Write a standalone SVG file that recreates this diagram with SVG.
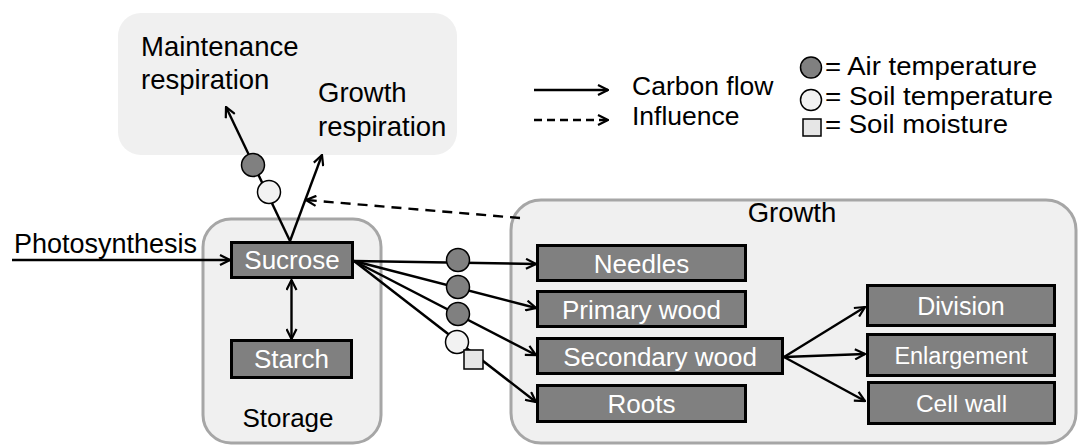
<svg xmlns="http://www.w3.org/2000/svg" width="1079" height="445" viewBox="0 0 1079 445">
<defs>
<style>
text{font-family:"Liberation Sans",Arial,sans-serif;fill:#000}
.lbl{font-size:27.5px}
.leg{font-size:26.5px}
.leg2{font-size:25px}
.box{fill:#808080;stroke:#000;stroke-width:3}
.bt{font-size:26px;fill:#fff;text-anchor:middle}
.cont{fill:#f0f0f0;stroke:#a6a6a6;stroke-width:3}
.flow{stroke:#000;stroke-width:2.4;fill:none}
.dash{stroke-dasharray:10 7}
.air{fill:#808080;stroke:#000;stroke-width:1.5}
.soil{fill:#f2f2f2;stroke:#000;stroke-width:1.5}
.moist{fill:#e6e6e6;stroke:#000;stroke-width:1.5}
</style>
<marker id="arr" viewBox="0 0 12 12" refX="11" refY="6" markerWidth="12" markerHeight="12" markerUnits="userSpaceOnUse" orient="auto-start-reverse">
<path d="M1,1 L11,6 L1,11" fill="none" stroke="#000" stroke-width="2.2" stroke-dasharray="none"/>
</marker>
</defs>
<rect width="1079" height="445" fill="#fff"/>

<g id="respiration">
<rect x="118" y="13" width="339" height="142" rx="23" fill="#f0f0f0"/>
<text class="lbl" x="141" y="56">Maintenance</text>
<text class="lbl" x="141" y="89">respiration</text>
<text class="lbl" x="318" y="102">Growth</text>
<text class="lbl" x="318" y="136">respiration</text>
</g>

<g id="storage">
<rect class="cont" x="203" y="219" width="178" height="224" rx="28"/>
<text class="lbl" x="288" y="427" text-anchor="middle" style="font-size:26px">Storage</text>
</g>

<g id="growth">
<rect class="cont" x="511" y="200" width="565" height="243" rx="30"/>
<text class="lbl" x="792" y="222" text-anchor="middle">Growth</text>
</g>

<g id="connectors">
<line class="flow" x1="12" y1="260" x2="230" y2="260" marker-end="url(#arr)"/>
<line class="flow" x1="291.5" y1="280" x2="291.5" y2="339" marker-start="url(#arr)" marker-end="url(#arr)"/>
<line class="flow" x1="290" y1="241" x2="226" y2="107" marker-end="url(#arr)"/>
<line class="flow" x1="290" y1="241" x2="322" y2="155" marker-end="url(#arr)"/>
<line class="flow dash" x1="520" y1="218" x2="306" y2="200" marker-end="url(#arr)"/>
<line class="flow" x1="354" y1="261" x2="536" y2="264" marker-end="url(#arr)"/>
<line class="flow" x1="354" y1="261" x2="536" y2="308" marker-end="url(#arr)"/>
<line class="flow" x1="354" y1="261" x2="536" y2="355" marker-end="url(#arr)"/>
<line class="flow" x1="354" y1="261" x2="536" y2="402" marker-end="url(#arr)"/>
<line class="flow" x1="784" y1="357" x2="865" y2="307" marker-end="url(#arr)"/>
<line class="flow" x1="784" y1="357" x2="865" y2="354" marker-end="url(#arr)"/>
<line class="flow" x1="784" y1="357" x2="865" y2="401" marker-end="url(#arr)"/>
</g>

<g id="photosynthesis">
<text class="lbl" x="14" y="253" style="font-size:27px">Photosynthesis</text>
</g>

<g id="sucrose">
<rect class="box" x="231.5" y="242.5" width="121" height="35"/>
<text class="bt" x="292" y="269">Sucrose</text>
</g>
<g id="starch">
<rect class="box" x="231.5" y="340.5" width="120" height="37"/>
<text class="bt" x="291.5" y="368">Starch</text>
</g>
<g id="needles">
<rect class="box" x="537.5" y="245.5" width="208" height="35"/>
<text class="bt" x="641.5" y="272.5">Needles</text>
</g>
<g id="primary-wood">
<rect class="box" x="537.5" y="291.5" width="208" height="35"/>
<text class="bt" x="641.5" y="318.5">Primary wood</text>
</g>
<g id="secondary-wood">
<rect class="box" x="537.5" y="338.5" width="245" height="35"/>
<text class="bt" x="660" y="365.5">Secondary wood</text>
</g>
<g id="roots">
<rect class="box" x="537.5" y="385.5" width="208" height="36"/>
<text class="bt" x="641.5" y="413">Roots</text>
</g>
<g id="division">
<rect class="box" x="867.5" y="285.5" width="187" height="40"/>
<text class="bt" x="961" y="314.5" style="font-size:25px">Division</text>
</g>
<g id="enlargement">
<rect class="box" x="867.5" y="334.5" width="187" height="41"/>
<text class="bt" x="961" y="363.5" style="font-size:23.5px">Enlargement</text>
</g>
<g id="cell-wall">
<rect class="box" x="868.5" y="382.5" width="186" height="41"/>
<text class="bt" x="961.5" y="412" style="font-size:24.5px">Cell wall</text>
</g>

<g id="drivers">
<circle class="air" cx="253" cy="165" r="11.5"/>
<circle class="soil" cx="269" cy="192" r="11.5"/>
<circle class="air" cx="458" cy="260" r="11.5"/>
<circle class="air" cx="458" cy="287" r="11.5"/>
<circle class="air" cx="458" cy="314" r="11.5"/>
<circle class="soil" cx="457" cy="342" r="11.5"/>
<rect class="moist" x="464" y="350" width="19" height="19"/>
</g>

<g id="legend">
<line class="flow" x1="534" y1="90" x2="608" y2="90" marker-end="url(#arr)"/>
<line class="flow" x1="534" y1="120" x2="608" y2="120" stroke-dasharray="8 5" marker-end="url(#arr)"/>
<text class="leg" x="632" y="95">Carbon flow</text>
<text class="leg" x="632" y="125">Influence</text>
<circle class="air" cx="811" cy="67.5" r="10.5"/>
<circle class="soil" cx="811" cy="100" r="10.5"/>
<rect class="moist" x="803" y="119" width="18" height="17"/>
<text class="leg2" x="825" y="75" textLength="212" lengthAdjust="spacingAndGlyphs">= Air temperature</text>
<text class="leg2" x="825" y="105" textLength="228" lengthAdjust="spacingAndGlyphs">= Soil temperature</text>
<text class="leg2" x="825" y="133" textLength="183" lengthAdjust="spacingAndGlyphs">= Soil moisture</text>
</g>
</svg>
